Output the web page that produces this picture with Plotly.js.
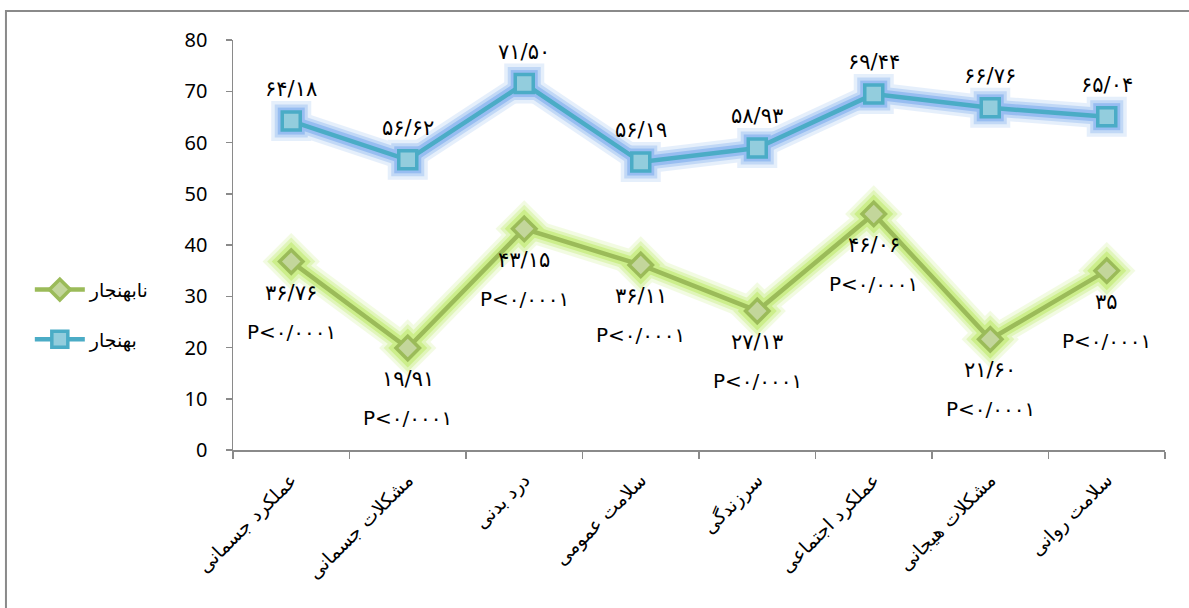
<!DOCTYPE html>
<html>
<head>
<meta charset="utf-8">
<script src="https://cdn.plot.ly/plotly-3.0.1.min.js"></script>
<style>html,body{margin:0;padding:0;background:#fff;}#chart{width:1189px;height:608px;}</style>
</head>
<body>
<div id="chart"></div>
<script>
const categories = ['عملکرد جسمانی','مشکلات جسمانی','درد بدنی','سلامت عمومی','سرزندگی','عملکرد اجتماعی','مشکلات هیجانی','سلامت روانی'];
const normalName = 'بهنجار';
const abnormalName = 'نابهنجار';
const normalValues = [64.18, 56.62, 71.50, 56.19, 58.93, 69.44, 66.76, 65.04];
const abnormalValues = [36.76, 19.91, 43.15, 36.11, 27.13, 46.06, 21.60, 35];
const pLabels = ['P<0/0001','P<0/0001','P<0/0001','P<0/0001','P<0/0001','P<0/0001','P<0/0001','P<0/0001'];
const yTicks = [0, 10, 20, 30, 40, 50, 60, 70, 80];

const faDigits = '۰۱۲۳۴۵۶۷۸۹';
function toFa(s) { return String(s).replace(/[0-9]/g, d => faDigits[+d]); }
function fmt(v) { return toFa((Number.isInteger(v) ? String(v) : v.toFixed(2)).replace('.', '/')); }

const BLUE = '#4BACC6', BLUE_FILL = '#93CDDD', BLUE_GLOW = 'rgb(90,150,235)';
const GREEN = '#9BBB59', GREEN_FILL = '#C3D69B', GREEN_GLOW = 'rgb(175,230,70)';
const FA_FONT = 'DejaVu Sans, Noto Sans, sans-serif';

function glow(y, color, sym, w, s, op) {
  return {x: categories, y: y, type: 'scatter', mode: 'lines+markers', showlegend: false, hoverinfo: 'skip',
    opacity: op, line: {color: color, width: w}, marker: {symbol: sym, size: s, color: color}};
}

const traces = [
  glow(normalValues, BLUE_GLOW, 'square', 24, 40, 0.15),
  glow(normalValues, BLUE_GLOW, 'square', 17, 33, 0.25),
  glow(normalValues, BLUE_GLOW, 'square', 11, 27, 0.4),
  glow(abnormalValues, GREEN_GLOW, 'diamond', 24, 44, 0.15),
  glow(abnormalValues, GREEN_GLOW, 'diamond', 17, 37, 0.25),
  glow(abnormalValues, GREEN_GLOW, 'diamond', 11, 30, 0.4),
  {x: categories, y: abnormalValues, name: abnormalName, legendgroup: 'a', type: 'scatter', mode: 'lines+markers',
    line: {color: GREEN, width: 4.5}, marker: {symbol: 'diamond', size: 18, color: GREEN_FILL, line: {color: GREEN, width: 3.5}}},
  {x: categories, y: normalValues, name: normalName, legendgroup: 'b', type: 'scatter', mode: 'lines+markers',
    line: {color: BLUE, width: 4.5}, marker: {symbol: 'square', size: 18, color: BLUE_FILL, line: {color: BLUE, width: 3.5}}}
];

const annotations = [];
categories.forEach((c, i) => {
  annotations.push({x: c, y: normalValues[i], text: fmt(normalValues[i]), showarrow: false, yshift: 32,
    font: {family: FA_FONT, size: 21, color: '#000'}});
  annotations.push({x: c, y: abnormalValues[i], text: fmt(abnormalValues[i]), showarrow: false, yshift: -31,
    font: {family: FA_FONT, size: 21, color: '#000'}});
  annotations.push({x: c, y: abnormalValues[i], text: toFa(pLabels[i]), showarrow: false, yshift: -70,
    font: {family: FA_FONT, size: 20, color: '#000'}});
});

const layout = {
  width: 1189, height: 608,
  margin: {l: 233, r: 24, t: 40, b: 158},
  paper_bgcolor: '#fff', plot_bgcolor: '#fff',
  showlegend: true,
  legend: {x: -0.218, xanchor: 'left', y: 0.33, yanchor: 'middle', font: {family: FA_FONT, size: 19, color: '#000'},
    bgcolor: 'rgba(0,0,0,0)', traceorder: 'grouped', tracegroupgap: 22, itemwidth: 50},
  xaxis: {type: 'category', range: [-0.5, 7.5], showline: true, linecolor: '#8a8a8a', linewidth: 1.5,
    ticks: 'outside', tickson: 'boundaries', ticklen: 7, tickcolor: '#8a8a8a', tickwidth: 1.5,
    tickangle: -45, tickfont: {family: FA_FONT, size: 19, color: '#000'}, showgrid: false, zeroline: false,
    ticklabelstandoff: 10},
  yaxis: {range: [0, 80], tickvals: yTicks, ticktext: yTicks.map(String), showline: true, linecolor: '#8a8a8a', linewidth: 1.5,
    ticks: 'outside', ticklen: 6, tickcolor: '#8a8a8a', tickwidth: 1.5, showgrid: false, zeroline: false,
    tickfont: {family: 'Noto Sans, Open Sans, sans-serif', size: 20, color: '#000'}, ticklabelstandoff: 14},
  shapes: [{type: 'rect', xref: 'paper', yref: 'paper', x0: -0.2436, x1: 1.5, y0: -1, y1: 1.0707,
    line: {color: '#8a8a8a', width: 2}, fillcolor: 'rgba(0,0,0,0)', layer: 'below'}],
  annotations: annotations
};

Plotly.newPlot('chart', traces, layout, {displayModeBar: false, staticPlot: true});
</script>
</body>
</html>
